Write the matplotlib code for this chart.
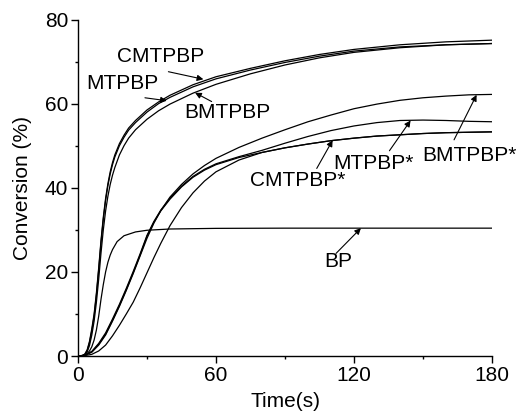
import matplotlib
matplotlib.use("Agg")
import matplotlib.pyplot as plt
from matplotlib.ticker import MultipleLocator

plt.rcParams['font.family'] = ['Liberation Sans', 'DejaVu Sans']

# --- fast-initiating systems ---
t_fast = [0, 2, 3, 4, 5, 6, 7, 8, 9, 10, 11, 12, 13, 14, 15, 16, 18, 20, 22, 25,
          30, 35, 40, 50, 60, 75, 90, 105, 120, 140, 160, 180]
cmtpbp = [0, 0.1, 0.5, 1.5, 3.5, 6.5, 10, 15, 21, 27.5, 33, 37.5, 41, 43.8, 46, 47.8,
          50.5, 52.5, 54.2, 56, 58.5, 60.4, 62, 64.5, 66.4, 68.4, 70.2, 71.7, 72.9,
          74.0, 74.7, 75.1]
mtpbp = [0, 0.1, 0.4, 1.3, 3.2, 6, 9.5, 14.5, 20.5, 27, 32.5, 37, 40.5, 43.3, 45.5,
         47.3, 50, 52, 53.7, 55.5, 58, 60, 61.5, 64, 65.9, 68, 69.8, 71.3, 72.5,
         73.5, 74.0, 74.3]
bmtpbp = [0, 0.1, 0.3, 1, 2.5, 5, 8.3, 12.8, 18.3, 24.5, 30, 34.5, 38, 40.8, 43,
          44.8, 47.8, 50, 51.8, 53.8, 56.3, 58.3, 59.9, 62.5, 64.6, 67.1, 69.2, 70.9,
          72.2, 73.3, 74.0, 74.3]

# --- starred systems ---
t_slow = [0, 3, 6, 9, 12, 15, 18, 21, 24, 27, 30, 33, 36, 40, 45, 50, 55, 60, 70,
          80, 90, 100, 110, 120, 130, 140, 150, 160, 170, 180]
cmtpbp_s = [0, 0.2, 1, 2.8, 5.2, 8.5, 12, 15.8, 19.8, 24, 28.5, 31.8, 34.5, 37.3,
            40.2, 42.5, 44.2, 45.5, 47.2, 48.4, 49.5, 50.4, 51.2, 51.8, 52.3, 52.6,
            52.9, 53.1, 53.2, 53.3]
mtpbp_s = [0, 0.2, 1.1, 3, 5.5, 8.8, 12.3, 16.1, 20.1, 24.3, 28.7, 32, 34.7, 37.5,
           40.4, 42.7, 44.4, 45.7, 47.4, 48.9, 50.6, 52.2, 53.6, 54.7, 55.5, 56.0,
           56.1, 56.0, 55.8, 55.7]
bmtpbp_s = [0, 0.2, 0.9, 2.6, 5, 8.3, 11.8, 15.6, 19.6, 23.8, 28, 31.6, 34.6, 37.8,
            40.8, 43.3, 45.3, 47, 49.6, 51.8, 53.8, 55.7, 57.3, 58.8, 59.9, 60.8,
            61.4, 61.8, 62.1, 62.2]
extra_s = [0, 0.1, 0.4, 1.2, 2.6, 4.8, 7.3, 10, 12.8, 16.2, 19.8, 23.4, 26.8, 31,
           35.3, 38.8, 41.6, 43.8, 46.6, 48.4, 49.5, 50.4, 51.2, 51.8, 52.3, 52.6,
           52.9, 53.1, 53.2, 53.3]

# --- reference BP ---
t_bp = [0, 2, 3, 4, 5, 6, 7, 8, 9, 10, 11, 12, 13, 14, 15, 17, 20, 25, 30, 40, 60,
        90, 120, 150, 180]
bp = [0, 0.1, 0.3, 0.6, 1.2, 2.2, 3.8, 6.2, 9.5, 13.5, 17, 20, 22.3, 24, 25.3, 27.2,
      28.6, 29.5, 29.9, 30.2, 30.35, 30.4, 30.4, 30.4, 30.4]

fig = plt.figure(figsize=(5.18, 4.16), dpi=100)
ax = fig.add_axes([0.1506, 0.1442, 0.7992, 0.8088])

lw = 0.9
for t, y in [(t_fast, cmtpbp), (t_fast, mtpbp), (t_fast, bmtpbp),
             (t_slow, cmtpbp_s), (t_slow, mtpbp_s), (t_slow, bmtpbp_s),
             (t_slow, extra_s), (t_bp, bp)]:
    ax.plot(t, y, color='black', lw=lw)

ax.set_xlim(0, 180)
ax.set_ylim(0, 80)
ax.xaxis.set_major_locator(MultipleLocator(60))
ax.xaxis.set_minor_locator(MultipleLocator(30))
ax.yaxis.set_major_locator(MultipleLocator(20))
ax.yaxis.set_minor_locator(MultipleLocator(10))
for s in ('top', 'right'):
    ax.spines[s].set_visible(False)
for s in ('left', 'bottom'):
    ax.spines[s].set_linewidth(1.0)
ax.tick_params(which='major', direction='out', length=5, width=1.0,
               labelsize=15, pad=2)
ax.tick_params(which='minor', direction='out', length=2.5, width=1.0)

ax.set_xlabel('Time(s)', fontsize=15, labelpad=5)
ax.set_ylabel('Conversion (%)', fontsize=15, labelpad=9)

arrow_kw = dict(arrowstyle='-|>', color='black', lw=0.8, mutation_scale=9,
                shrinkA=0, shrinkB=0)
labels = [
    ('CMTPBP', (36.1, 71.1), (39.3, 67.6), (54.5, 65.8)),
    ('MTPBP', (19.3, 64.7), (29.1, 61.4), (38.6, 60.7)),
    ('BMTPBP', (64.8, 57.8), (58.1, 60.5), (50.9, 62.6)),
    ('CMTPBP*', (95.3, 41.8), (103.8, 44.6), (110.7, 51.3)),
    ('MTPBP*', (128.3, 45.8), (135.4, 48.8), (144.6, 56.0)),
    ('BMTPBP*', (170.4, 47.6), (163.5, 51.4), (173.3, 62.1)),
    ('BP', (113.0, 22.4), (112.2, 24.4), (123.0, 30.4)),
]
for text, pos, tail, head in labels:
    ax.text(pos[0], pos[1], text, fontsize=15, ha='center', va='center',
            clip_on=False)
    ax.annotate('', xy=head, xytext=tail, arrowprops=arrow_kw)

fig.savefig('out.png', dpi=100)
